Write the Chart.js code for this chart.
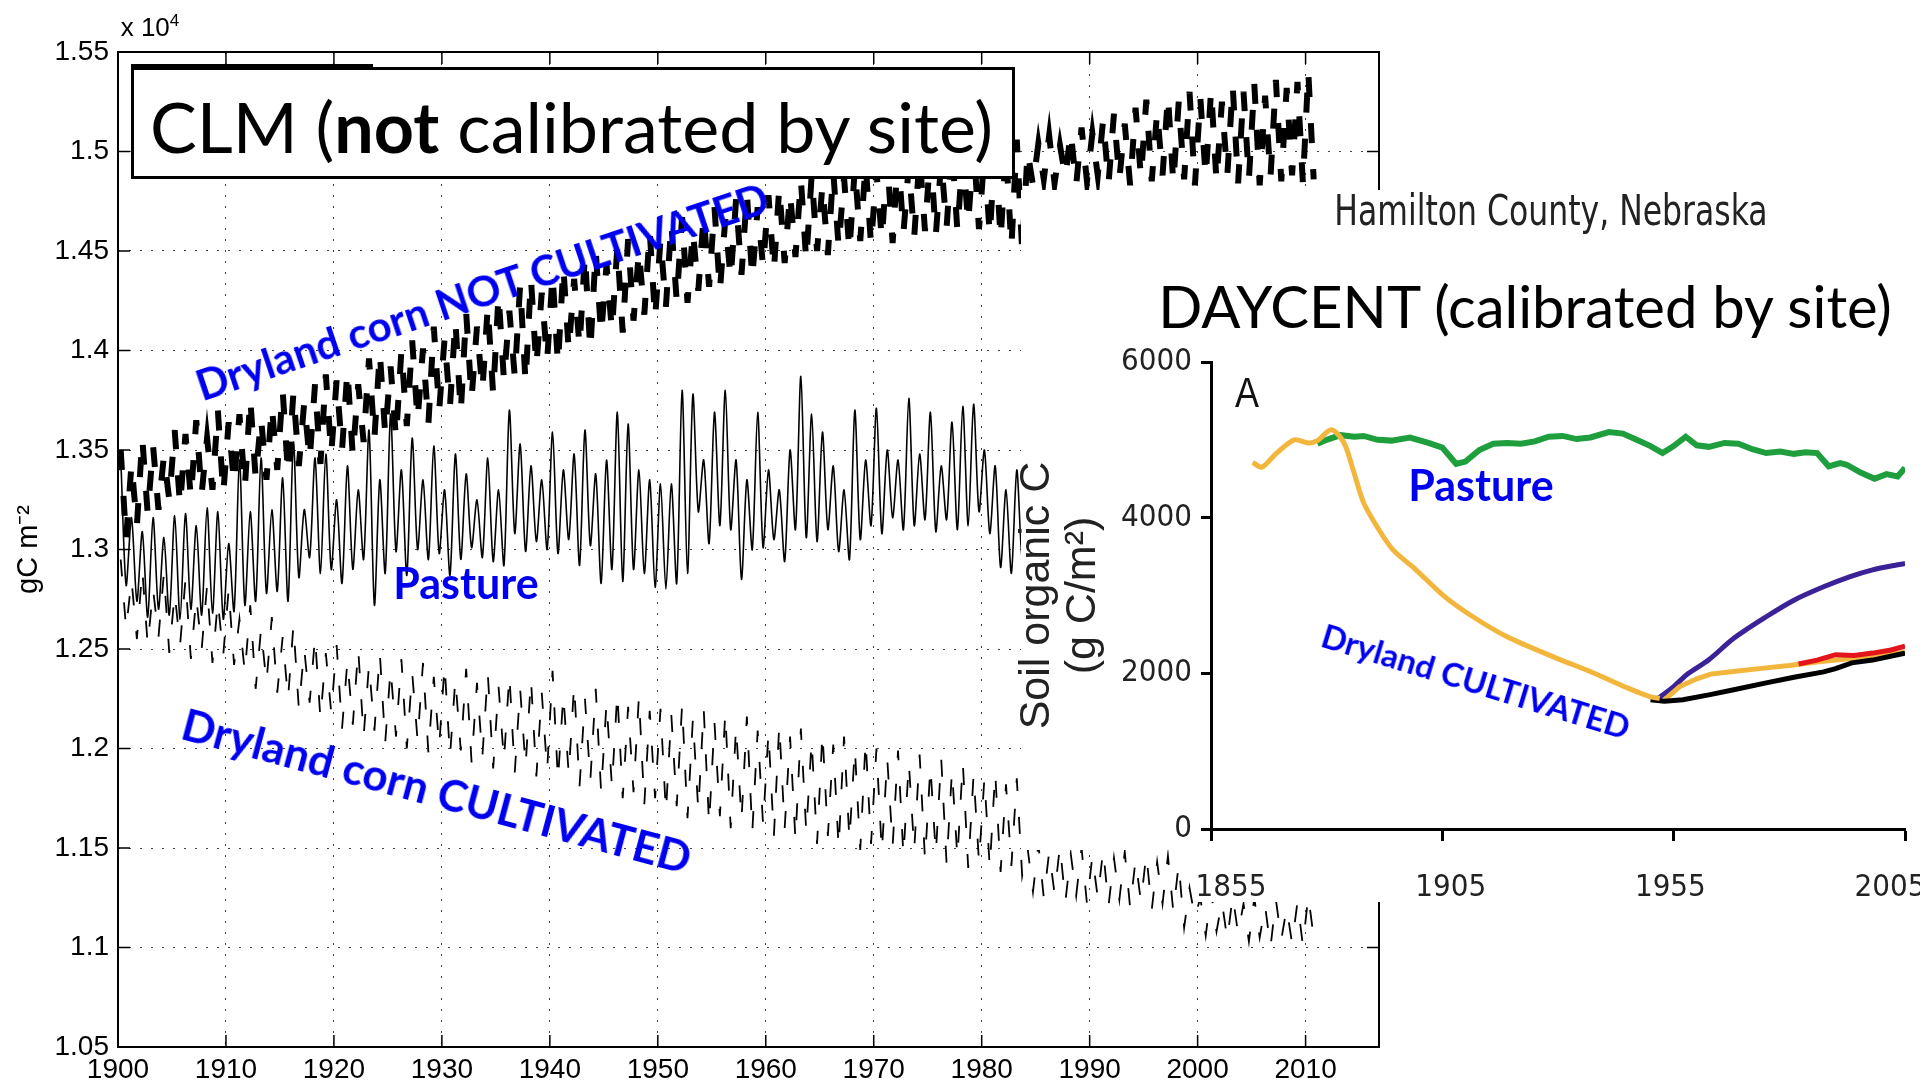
<!DOCTYPE html>
<html>
<head>
<meta charset="utf-8">
<script src="https://cdn.jsdelivr.net/npm/chart.js@4.4.1/dist/chart.umd.min.js"></script>
<style>
  html, body { margin: 0; padding: 0; background: #fff; }
  body { width: 1920px; height: 1087px; position: relative; overflow: hidden; font-family: 'Liberation Sans', Arial, sans-serif; }
  canvas { position: absolute; }
  .white { position: absolute; background: #fff; }
  .lbl { position: absolute; white-space: nowrap; line-height: 1; transform: translate(-50%, -50%); }
  .blue { color: #0000f0; font-family: Lato, 'Open Sans', sans-serif; font-weight: 700; }
</style>
</head>
<body>
<canvas id="clm" width="1920" height="1087" style="left:0;top:0"></canvas>

<!-- the DAYCENT panel is pasted over the right part of the CLM plot -->
<div class="white" style="left:1021px;top:190px;width:899px;height:660px"></div>
<div class="white" style="left:1196px;top:850px;width:724px;height:52px"></div>
<canvas id="daycent" width="967" height="730" style="left:1014px;top:190px"></canvas>

<div style="position:absolute;left:131px;top:64px;width:242px;height:3px;background:#000"></div>
<div style="position:absolute;left:131px;top:67px;width:884px;height:112px;box-sizing:border-box;border:3px solid #000;background:#fff;
            font-family:Lato,'Open Sans',sans-serif;font-size:70px;line-height:112px;padding-left:16px;color:#000;white-space:nowrap">CLM (<b>not</b> calibrated by site)</div>

<div class="lbl" style="left:150px;top:26px;font-size:26px;">x 10<sup style="font-size:17px">4</sup></div>

<div class="lbl blue" style="left:482px;top:291px;font-size:42px;transform:translate(-50%,-50%) rotate(-18.5deg)">Dryland corn NOT CULTIVATED</div>
<div class="lbl blue" style="left:466px;top:582px;font-size:43px">Pasture</div>
<div class="lbl blue" style="left:437px;top:790px;font-size:44px;transform:translate(-50%,-50%) rotate(15deg)">Dryland corn CULTIVATED</div>

<div class="lbl" style="left:1551px;top:211px;font-size:35px;color:#222;font-family:'DejaVu Sans Condensed','Liberation Sans',sans-serif;transform:translate(-50%,-50%) scaleY(1.2)">Hamilton County, Nebraska</div>
<div class="lbl" style="left:1525px;top:306px;font-size:58px;color:#000;font-family:Lato,'Open Sans',sans-serif">DAYCENT (calibrated by site)</div>
<div class="lbl" style="left:1247px;top:393px;font-size:36px;color:#111;transform:translate(-50%,-50%) scaleY(1.2)">A</div>
<div class="lbl blue" style="left:1481px;top:484px;font-size:43px">Pasture</div>
<div class="lbl blue" style="left:1476px;top:681px;font-size:33px;transform:translate(-50%,-50%) rotate(17deg)">Dryland CULTIVATED</div>

<script>
// ------------------------------------------------------------
// CLM panel: soil C (gC m-2), yearly high / low of the seasonal swing
// ------------------------------------------------------------
const clmYears = [];
for (let y = 1900; y <= 2010; y++) clmYears.push(y);

const notCultHi = [
  13500, 13430, 13560, 13520, 13470, 13600, 13580, 13650, 13560, 13700,
  13640, 13680, 13760, 13660, 13720, 13800, 13790, 13740, 13830, 13880,
  13850, 13900, 13830, 13960, 13990, 13920, 14000, 14050, 14010, 14120,
  14060, 14150, 14190, 14120, 14220, 14280, 14200, 14330, 14360, 14290,
  14380, 14420, 14360, 14480, 14500, 14430, 14520, 14560, 14500, 14600,
  14560, 14640, 14670, 14600, 14680, 14720, 14660, 14760, 14790, 14720,
  14780, 14820, 14790, 14860, 14880, 14830, 14900, 14870, 14920, 14940,
  14900, 14960, 14990, 14930, 14980, 15000, 14950, 15020, 14990, 15030,
  14990, 15040, 15010, 15060, 15000, 15040, 15080, 15030, 15100, 15120,
  15090, 15160, 15190, 15140, 15220, 15260, 15200, 15280, 15250, 15300,
  15270, 15310, 15250, 15330, 15300, 15340, 15280, 15360, 15320, 15350, 15400
];
const notCultLo = [
  13050, 13120, 13180, 13200, 13250, 13220, 13260, 13280, 13300, 13280,
  13330, 13310, 13360, 13350, 13400, 13380, 13420, 13450, 13430, 13480,
  13500, 13470, 13540, 13560, 13580, 13560, 13620, 13650, 13630, 13700,
  13720, 13690, 13760, 13800, 13780, 13850, 13870, 13840, 13920, 13950,
  13930, 14000, 14020, 14000, 14080, 14100, 14090, 14150, 14180, 14160,
  14220, 14250, 14240, 14300, 14320, 14300, 14360, 14380, 14360, 14420,
  14400, 14440, 14470, 14450, 14500, 14480, 14520, 14500, 14550, 14530,
  14560, 14540, 14590, 14570, 14600, 14580, 14620, 14600, 14640, 14610,
  14580, 14560, 14520, 14500, 14830, 14860, 14840, 14870, 14830, 14850,
  14880, 14840, 14860, 14830, 14870, 14850, 14880, 14840, 14860, 14830,
  14870, 14850, 14880, 14840, 14860, 14830, 14870, 14850, 14880, 14840, 14860
];

// pasture run stops where the DAYCENT panel covers it (1984)
const pastPeak = [
  13470, 13160, 13090, 13160, 13060, 13170, 13180, 13120, 13210, 13190,
  13030, 13450, 13190, 13460, 13200, 13360, 13540, 13200, 13460, 13480,
  13250, 13420, 13300, 13600, 13350, 13680, 13400, 13560, 13350, 13520,
  13300, 13480, 13380, 13250, 13460, 13300, 13700, 13530, 13420, 13350,
  13590, 13400, 13480, 13600, 13380, 13450, 13690, 13630, 13400, 13350,
  13330, 13330, 13800, 13780, 13450, 13690, 13800, 13450, 13350, 13690,
  13400, 13300, 13500, 13870, 13680, 13590, 13420, 13300, 13700, 13450,
  13710, 13500, 13450, 13760, 13480, 13690, 13420, 13640, 13720, 13730,
  13500, 13420, 13300, 13400, 13350
];
const pastTrough = [
  12820, 12740, 12660, 12700, 12670, 12650, 12700, 12670, 12680, 12650,
  12690, 12720, 12740, 12780, 12790, 12740, 12860, 12960, 12880, 12900,
  12830, 12900, 12950, 12720, 12880, 12990, 12870, 13000, 12950, 12980,
  12870, 12950, 13010, 12960, 12940, 12920, 13080, 12990, 13040, 13000,
  12980, 13050, 12920, 13020, 12830, 12900, 12840, 12900, 12880, 12810,
  12800, 12830, 12880, 13190, 13030, 13120, 13100, 12850, 13000, 13010,
  13050, 12940, 13100, 13060, 13040, 13100, 12990, 12950, 13050, 13120,
  13080, 13160, 13100, 13120, 13150, 13090, 13150, 13100, 13120, 13190,
  13080, 12910, 12880, 12950, 12950
];

const cultHi = [
  12950, 12850, 12900, 12800, 12880, 12780, 12850, 12760, 12820, 12740,
  12800, 12650, 12720, 12600, 12660, 12560, 12620, 12500, 12560, 12480,
  12520, 12440, 12500, 12420, 12480, 12400, 12450, 12380, 12430, 12360,
  12420, 12350, 12400, 12330, 12380, 12310, 12370, 12300, 12350, 12280,
  12390, 12270, 12320, 12250, 12300, 12230, 12280, 12210, 12260, 12190,
  12200, 12170, 12220, 12150, 12200, 12130, 12180, 12110, 12160, 12090,
  12080, 12120, 12060, 12100, 12040, 12080, 12020, 12060, 12000, 12040,
  12000, 11950, 11990, 11930, 11970, 11910, 11950, 11890, 11930, 11870,
  11850, 11880, 11820, 11850, 11500, 11520, 11480, 11510, 11470, 11500,
  11460, 11490, 11450, 11480, 11440, 11470, 11430, 11460, 11420, 11300,
  11250, 11280, 11230, 11260, 11220, 11250, 11210, 11240, 11200, 11230, 11260
];
const cultLo = [
  12600, 12550, 12520, 12560, 12480, 12520, 12450, 12500, 12430, 12470,
  12420, 12380, 12300, 12330, 12280, 12250, 12200, 12230, 12150, 12180,
  12100, 12120, 12060, 12090, 12030, 12060, 12000, 12040, 11980, 12010,
  11960, 11990, 11930, 11960, 11900, 11940, 11880, 11910, 11860, 11890,
  11840, 11870, 11810, 11840, 11780, 11810, 11750, 11780, 11720, 11750,
  11680, 11710, 11650, 11690, 11620, 11660, 11600, 11640, 11580, 11620,
  11560, 11600, 11540, 11580, 11520, 11560, 11500, 11540, 11490, 11520,
  11480, 11510, 11460, 11490, 11440, 11470, 11420, 11450, 11400, 11430,
  11400, 11380, 11410, 11360, 11280, 11250, 11270, 11230, 11260, 11220,
  11250, 11210, 11240, 11200, 11230, 11190, 11220, 11180, 11100, 11150,
  11060, 11080, 11040, 11070, 11030, 11050, 11000, 11040, 11020, 11010, 11050
];

// ------------------------------------------------------------
// DAYCENT panel: soil organic C (g C/m2)
// ------------------------------------------------------------
const daycentTicks = [1855, 1905, 1955, 2005];

const nativeYrs = [1864, 1866, 1869, 1873, 1876, 1878, 1881, 1883.7, 1885.7, 1888, 1891.3, 1894.3, 1899.3, 1905.5, 1911.6, 1919, 1929, 1937.7, 1945, 1950, 1952];
const nativeSoc = [4710, 4650, 4820, 5000, 4960, 4990, 5130, 4965, 4620, 4190, 3845, 3590, 3330, 2985, 2727, 2470, 2212, 2005, 1813, 1698, 1680];

const pastureYrs = [1878, 1880, 1883, 1886, 1888, 1891, 1894, 1898, 1902, 1905,
  1908, 1910, 1913, 1916, 1919, 1922, 1925, 1928, 1931, 1934,
  1937, 1941, 1944, 1947, 1950, 1952.6, 1955, 1957.6, 1960, 1962.6,
  1966, 1969, 1972, 1975, 1978, 1981, 1983.5, 1986, 1988.5, 1991,
  1992.4, 1995.4, 1998.4, 2001, 2003.4, 2005];
const pastureSoc = [4950, 5000, 5060, 5040, 5050, 5000, 4990, 5030, 4960, 4900,
  4690, 4720, 4870, 4950, 4960, 4950, 4980, 5040, 5050, 5010,
  5030, 5100, 5080, 5000, 4920, 4830, 4920, 5040, 4930, 4910,
  4960, 4950, 4880, 4830, 4850, 4820, 4840, 4830, 4660, 4700,
  4680, 4580, 4500, 4560, 4530, 4640];

const blackYrs = [1950, 1953, 1957, 1962.6, 1968, 1975, 1981, 1987.4, 1990, 1993.5, 1998, 2003.4, 2005];
const blackSoc = [1660, 1640, 1660, 1723, 1790, 1878, 1950, 2019, 2060, 2135, 2170, 2238, 2260];

const goldYrs = [1953, 1956.3, 1960, 1963, 1968.8, 1975, 1980, 1985, 1990, 1995, 2000, 2005];
const goldSoc = [1660, 1830, 1930, 1990, 2030, 2070, 2100, 2140, 2170, 2200, 2230, 2270];

const redYrs = [1982, 1986, 1990, 1994, 1998, 2002, 2005];
const redSoc = [2120, 2170, 2240, 2230, 2260, 2300, 2350];

const purpleYrs = [1951, 1955, 1958, 1962.6, 1968, 1975, 1981, 1987.4, 1993, 1998, 2003.4, 2005];
const purpleSoc = [1650, 1830, 1990, 2174, 2450, 2727, 2940, 3112, 3240, 3330, 3395, 3410];

// ------------------------------------------------------------
const FONT = "'Liberation Sans', Arial, sans-serif";
const NARROW = "'DejaVu Sans Condensed', 'Liberation Sans', Arial, sans-serif";

// high early in the year, low later: one up/down swing per year
function swing(years, hi, lo) {
  const pts = [];
  hi.forEach((v, i) => {
    pts.push({ x: years[i] + 0.25, y: v });
    pts.push({ x: years[i] + 0.75, y: lo[i] });
  });
  return pts;
}
const pairs = (xs, ys) => xs.map((x, i) => ({ x, y: ys[i] }));

// matlab style box with inward ticks on all four sides
const matlabBox = {
  id: 'matlabBox',
  afterDraw(chart) {
    const { ctx, chartArea: a, scales } = chart;
    ctx.save();
    ctx.setLineDash([]);
    ctx.strokeStyle = '#000';
    ctx.lineWidth = 2;
    ctx.strokeRect(a.left, a.top, a.right - a.left, a.bottom - a.top);
    ctx.lineWidth = 1.5;
    ctx.beginPath();
    scales.x.ticks.forEach(t => {
      const px = scales.x.getPixelForValue(t.value);
      ctx.moveTo(px, a.bottom); ctx.lineTo(px, a.bottom - 12);
      ctx.moveTo(px, a.top);    ctx.lineTo(px, a.top + 12);
    });
    scales.y.ticks.forEach(t => {
      const py = scales.y.getPixelForValue(t.value);
      ctx.moveTo(a.left, py);  ctx.lineTo(a.left + 12, py);
      ctx.moveTo(a.right, py); ctx.lineTo(a.right - 12, py);
    });
    ctx.stroke();
    ctx.restore();
  },
};

new Chart(document.getElementById('clm'), {
  type: 'line',
  data: {
    datasets: [
      { label: 'Dryland corn NOT CULTIVATED', data: swing(clmYears, notCultHi, notCultLo),
        borderColor: '#000', borderWidth: 6, borderDash: [20, 26], borderCapStyle: 'butt', pointRadius: 0, tension: 0 },
      { label: 'Pasture', data: swing(clmYears, pastPeak, pastTrough),
        borderColor: '#000', borderWidth: 1.6, pointRadius: 0, tension: 0.28 },
      { label: 'Dryland corn CULTIVATED', data: swing(clmYears, cultHi, cultLo),
        borderColor: '#000', borderWidth: 1.8, borderDash: [17, 26], pointRadius: 0, tension: 0 },
    ],
  },
  options: {
    responsive: false, animation: false, events: [],
    layout: { padding: { left: 0, top: 52, right: 541, bottom: 0 } },
    plugins: { legend: { display: false }, tooltip: { enabled: false } },
    scales: {
      x: {
        type: 'linear', min: 1900, max: 2016.8,
        ticks: { stepSize: 10, includeBounds: false, autoSkip: false, maxRotation: 0, padding: 6,
                 color: '#000', font: { family: FONT, size: 28 }, callback: v => String(v) },
        grid: { color: '#444', lineWidth: 1, drawTicks: false },
        border: { display: false, dash: [2, 9] },
        afterFit: s => { s.height = 40; },
      },
      y: {
        min: 10500, max: 15500,
        ticks: { stepSize: 500, padding: 9, color: '#000', font: { family: FONT, size: 28 },
                 callback: v => String(+(v / 10000).toFixed(2)) },
        grid: { color: '#444', lineWidth: 1, drawTicks: false },
        border: { display: false, dash: [2, 9] },
        title: { display: true, text: 'gC m\u207B\u00B2', color: '#000', font: { family: FONT, size: 29 }, padding: { top: 12, bottom: 0 } },
        afterFit: s => { s.width = 118; },
      },
    },
  },
  plugins: [matlabBox],
});

new Chart(document.getElementById('daycent'), {
  type: 'line',
  data: {
    datasets: [
      { label: 'Native / cultivated', data: pairs(nativeYrs, nativeSoc), borderColor: '#f2b63c', tension: 0.3 },
      { label: 'Continuous', data: pairs(blackYrs, blackSoc), borderColor: '#000' },
      { label: 'Red', data: pairs(redYrs, redSoc), borderColor: '#e3141c' },
      { label: 'Gold', data: pairs(goldYrs, goldSoc), borderColor: '#f2b63c' },
      { label: 'Purple', data: pairs(purpleYrs, purpleSoc), borderColor: '#3b2296', tension: 0.3 },
      { label: 'Pasture', data: pairs(pastureYrs, pastureSoc), borderColor: '#1f9e3e', borderWidth: 6 },
    ],
  },
  options: {
    responsive: false, animation: false, events: [],
    layout: { padding: { left: 0, top: 172, right: 76, bottom: 8 } },
    elements: { line: { borderWidth: 5, tension: 0 }, point: { radius: 0 } },
    plugins: { legend: { display: false }, tooltip: { enabled: false } },
    scales: {
      x: {
        type: 'linear', min: 1855, max: 2005, weight: 0,
        ticks: { stepSize: 50, display: false },
        grid: { drawOnChartArea: false, tickLength: 12, tickWidth: 3, tickColor: '#000' },
        border: { width: 3, color: '#000' },
        afterFit: s => { s.height = 13; },
      },
      // the year labels in the source panel sit on a slightly tighter spacing than its ticks
      x2: {
        type: 'linear', position: 'bottom', weight: 1, min: 1850.45, max: 2008.4,
        afterBuildTicks: s => { s.ticks = daycentTicks.map(value => ({ value })); },
        ticks: { autoSkip: false, maxRotation: 0, padding: 27, color: '#222',
                 font: { family: NARROW, size: 31 }, callback: v => String(v) },
        grid: { display: false, drawTicks: false },
        border: { display: false },
        afterFit: s => { s.height = 70; },
      },
      y: {
        min: 0, max: 6000,
        ticks: { stepSize: 2000, padding: 9, color: '#222', font: { family: NARROW, size: 31 },
                 callback: v => String(v) },
        grid: { drawOnChartArea: false, tickLength: 10, tickWidth: 3, tickColor: '#000' },
        border: { width: 3, color: '#000' },
        title: { display: true, text: ['Soil organic C', '(g C/m\u00B2)'], color: '#222',
                 font: { family: FONT, size: 43, lineHeight: 1.07 }, padding: 0 },
        afterFit: s => { s.width = 197; },
      },
    },
  },
});
</script>
</body>
</html>
